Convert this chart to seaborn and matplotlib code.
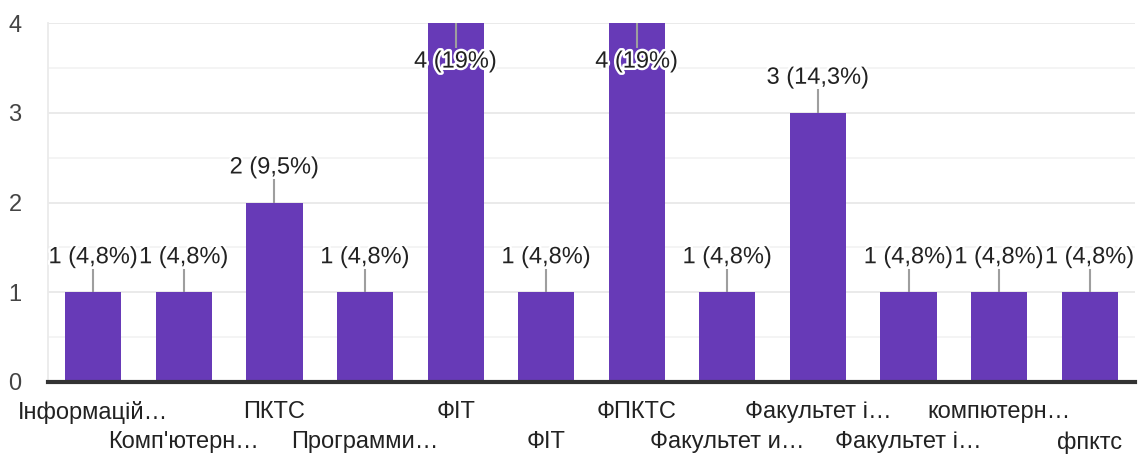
import matplotlib
matplotlib.use("Agg")
import matplotlib.pyplot as plt
import matplotlib.patheffects as pe
import matplotlib.transforms as mtransforms
import seaborn as sns
import pandas as pd

categories = ["Інформацій…", "Комп'ютерн…", "ПКТС", "Программи…", "ФІТ", "ФІТ",
              "ФПКТС", "Факультет и…", "Факультет і…", "Факультет і…", "компютерн…", "фпктс"]
values = [1, 1, 2, 1, 4, 1, 4, 1, 3, 1, 1, 1]
value_labels = ["1 (4,8%)", "1 (4,8%)", "2 (9,5%)", "1 (4,8%)", "4 (19%)", "1 (4,8%)",
                "4 (19%)", "1 (4,8%)", "3 (14,3%)", "1 (4,8%)", "1 (4,8%)", "1 (4,8%)"]
yticks = [0, 1, 2, 3, 4]

sns.set_theme(style="white")
plt.rcParams['font.family'] = ['Liberation Sans', 'DejaVu Sans']

W, H = 1145, 455
fig = plt.figure(figsize=(W / 100, H / 100), dpi=100)
ax = fig.add_axes([48 / W, 73 / H, (1135 - 48) / W, (382 - 23) / H])

df = pd.DataFrame({"pos": [str(i) for i in range(len(values))], "value": values})
sns.barplot(data=df, x="pos", y="value", color="#673AB7", saturation=1, width=0.62,
            ax=ax, zorder=3)
for p in ax.patches:
    p.set_edgecolor("none")

ax.set_ylim(0, 4)
ax.set_xlim(-0.5, len(values) - 0.5)
ax.set_yticks(yticks)
ax.set_yticks([0.5, 1.5, 2.5, 3.5], minor=True)
ax.grid(axis="y", which="major", color="#e8e8e8", linewidth=1.3, zorder=0)
ax.grid(axis="y", which="minor", color="#f3f3f3", linewidth=1.3, zorder=0)
ax.set_axisbelow(True)
for s in ["top", "right"]:
    ax.spines[s].set_visible(False)
ax.spines["left"].set_color("#ebebeb")
ax.spines["left"].set_linewidth(1.3)
ax.spines["bottom"].set_color("#333333")
ax.spines["bottom"].set_linewidth(3)
ax.spines["bottom"].set_zorder(5)
ax.set_xlabel("")
ax.set_ylabel("")
ax.tick_params(axis="y", which="both", length=0, pad=19, labelsize=17, labelcolor="#444444")
ax.tick_params(axis="x", length=0, pad=14, labelsize=17, labelcolor="#222222")
ax.set_xticks(range(len(values)))
ax.set_xticklabels(categories)
for i, t in enumerate(ax.get_xticklabels()):
    if i % 2 == 1:
        t.set_transform(t.get_transform() +
                        mtransforms.ScaledTranslation(0, -0.30, fig.dpi_scale_trans))

halo = [pe.withStroke(linewidth=3.5, foreground="white")]
for i, (v, lab) in enumerate(zip(values, value_labels)):
    if v >= 4:
        ax.plot([i, i], [v, v - 0.28], color="#9e9e9e", lw=1.5, zorder=4,
                solid_capstyle="butt")
        ax.text(i, v - 0.43, lab, ha="center", va="center", fontsize=17,
                color="#222222", zorder=6, path_effects=halo)
    else:
        ax.plot([i, i], [v, v + 0.26], color="#9e9e9e", lw=1.5, zorder=4,
                solid_capstyle="butt")
        ax.text(i, v + 0.39, lab, ha="center", va="center", fontsize=17,
                color="#222222", zorder=6, path_effects=halo)

fig.savefig("out.png", dpi=100, facecolor="white")
